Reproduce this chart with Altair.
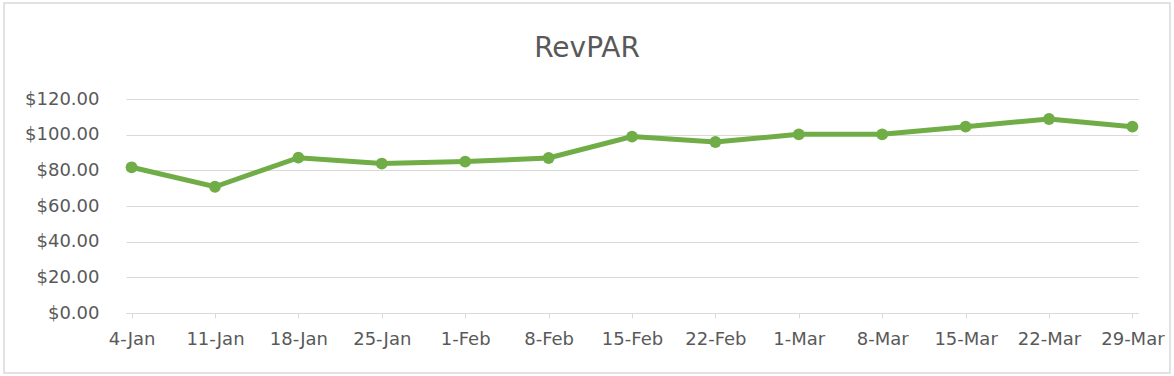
import altair as alt
import pandas as pd

weeks = ["4-Jan", "11-Jan", "18-Jan", "25-Jan", "1-Feb", "8-Feb", "15-Feb",
         "22-Feb", "1-Mar", "8-Mar", "15-Mar", "22-Mar", "29-Mar"]
revpar = [81.7, 70.8, 87.1, 83.8, 84.9, 86.9, 98.9, 95.9, 100.2, 100.2, 104.5, 108.8, 104.5]
y_ticks = [0, 20, 40, 60, 80, 100, 120]
title_text = ["RevPAR"]

df = pd.DataFrame({"week": weeks, "revpar": revpar})

W, H = 1012, 214
FONT = "DejaVu Sans"
GREY = "#595959"
LINE = "#d9d9d9"
GREEN = "#70ad47"

base = alt.Chart(df).encode(
    x=alt.X("week:N", sort=weeks,
            scale=alt.Scale(type="point", padding=0.067),
            axis=alt.Axis(title=None, labelAngle=0, grid=False,
                          domainColor=LINE, tickColor=LINE, tickSize=5,
                          labelPadding=12, labelFontSize=18, labelColor=GREY,
                          labelFont=FONT)),
    y=alt.Y("revpar:Q", scale=alt.Scale(domain=[0, 120]),
            axis=alt.Axis(title=None, values=y_ticks, format="$.2f",
                          domain=False, ticks=False, gridColor=LINE,
                          labelPadding=27, labelFontSize=18, labelColor=GREY,
                          labelFont=FONT)),
)

line = base.mark_line(color=GREEN, strokeWidth=5)
pts = base.mark_point(filled=True, size=140, color=GREEN, opacity=1)

border = alt.Chart(pd.DataFrame({"a": [0]})).mark_rect(
    fill="transparent", stroke=LINE, strokeWidth=1.5
).encode(x=alt.value(-122), x2=alt.value(W + 32), y=alt.value(-96), y2=alt.value(H + 60))

title = alt.Chart(pd.DataFrame({"t": title_text})).mark_text(
    font=FONT, fontSize=28, color=GREY, align="center", baseline="alphabetic"
).encode(text="t:N", x=alt.value(587 - 126), y=alt.value(57 - 99))

chart = alt.layer(border, line, pts, title).properties(
    width=W, height=H,
    autosize=alt.AutoSizeParams(type="none"),
    padding={"left": 126, "top": 99, "right": 36, "bottom": 63},
    background="white",
).configure_view(stroke=None)

chart.save("out.html", embed_options={"renderer": "svg", "actions": False})
